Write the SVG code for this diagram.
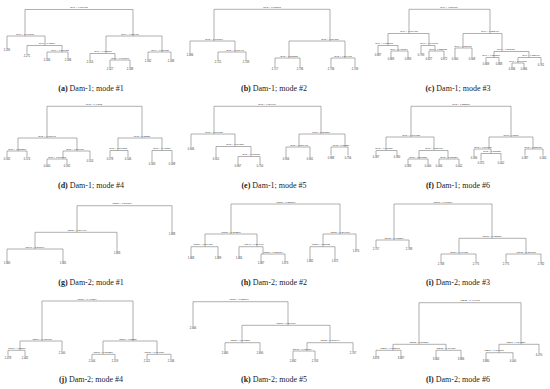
<svg xmlns="http://www.w3.org/2000/svg" width="550" height="389" viewBox="0 0 550 389">
<style>
.e{fill:none;stroke:#7a7a7a;stroke-width:0.6}
.n{font-family:"Liberation Sans",Arial,sans-serif;font-size:2.4px;fill:#333;text-anchor:middle}
.v{font-family:"Liberation Sans",Arial,sans-serif;font-size:2.6px;fill:#333;text-anchor:middle}
.c{font-family:"Liberation Serif","Times New Roman",serif;font-size:8px;fill:#222;text-anchor:middle}
.c tspan.b{font-weight:bold}
</style>
<rect width="550" height="389" fill="#fff"/>

<!-- (a) -->
<g id="panel-a" transform="translate(0,0)">
<g id="a-edges"><path class="e" d="M25 36V9.5H133V36M7 48V36H45V45.5M27 54V45.5H62V52M47 58V52H68V58M106 53.5V36H162V52M90 60V53.5H115V60M110 67V60H130V67M148 59V52H171V59"/></g>
<g id="a-n0"><text class="n" x="79" y="8">Rt46 &lt; 0.167451</text></g>
<g id="a-n1"><text class="n" x="25" y="34.8">Rt46 &lt; 0.147345</text></g>
<g id="a-n2"><text class="n" x="47" y="44.3">Rt46 &lt; 0.12154</text></g>
<g id="a-n3"><text class="n" x="60" y="50.8">Rt46 &lt; 0.168652</text></g>
<g id="a-n4"><text class="n" x="130" y="34.8">Rt46 &lt; 0.158486</text></g>
<g id="a-n5"><text class="n" x="103" y="52.3">Rt46 &lt; 0.173271</text></g>
<g id="a-n6"><text class="n" x="120" y="58.8">Rt46 &lt; 0.161897</text></g>
<g id="a-n7"><text class="n" x="160" y="50.8">Rt46 &lt; 0.186627</text></g>
<g id="a-leaves">
<text class="v" x="7" y="51">2.295</text><text class="v" x="27" y="57">2.271</text><text class="v" x="47" y="61">2.334</text><text class="v" x="68" y="61">2.336</text><text class="v" x="90" y="63">2.314</text><text class="v" x="110" y="70">2.327</text><text class="v" x="130" y="70">2.338</text><text class="v" x="148" y="62">2.332</text><text class="v" x="171" y="62">2.348</text>
</g>
<text class="c" x="91" y="91"><tspan class="b">(a)</tspan> Dam-1; mode #1</text>
</g>

<!-- (b) -->
<g id="panel-b" transform="translate(183,0)">
<g id="b-edges"><path class="e" d="M31 41V9.3H147V41M7 53V41H52V52M35 60V52H63V60M106 58V41H162V58M92 67V58H117V67M148 67V58H172V67"/></g>
<g id="b-n0"><text class="n" x="89" y="7.8">Rt43 &lt; 0.162195</text></g>
<g id="b-n1"><text class="n" x="31" y="39.5">Rt43 &lt; 0.168297</text></g>
<g id="b-n2"><text class="n" x="52" y="50.5">Rt43 &lt; 0.095441</text></g>
<g id="b-n3"><text class="n" x="147" y="39.5">Rt43 &lt; 0.214277</text></g>
<g id="b-n4"><text class="n" x="106" y="56.5">Rt43 &lt; 0.213265</text></g>
<g id="b-n5"><text class="n" x="160" y="56.5">Rt43 &lt; 0.244795</text></g>
<g id="b-leaves">
<text class="v" x="7" y="56">2.686</text><text class="v" x="35" y="63">2.715</text><text class="v" x="63" y="63">2.733</text><text class="v" x="92" y="70">2.717</text><text class="v" x="117" y="70">2.736</text><text class="v" x="148" y="70">2.736</text><text class="v" x="172" y="70">2.749</text>
</g>
<text class="c" x="91" y="91"><tspan class="b">(b)</tspan> Dam-1; mode #2</text>
</g>

<!-- (c) -->
<g id="panel-c" transform="translate(366,0)">
<g id="c-edges"><path class="e" d="M43 33.5V9.3H124V33.5M22 45.5V33.5H63V45.5M12 53V45.5H32V51M25 57V51H42V57M55 53V45.5H69V51M63 57V51H78V57M97 48V33.5H136V51.5M89 57V48H106V57M128 57.5V51.5H163V57.5M120 62V57.5H133V62M152 63V57.5H175V63M146 67V63H158V67"/></g>
<g id="c-n0"><text class="n" x="83" y="7.8">Rt46 &lt; 0.270789</text></g>
<g id="c-n1"><text class="n" x="43" y="32">Rt46 &lt; 0.184451</text></g>
<g id="c-n2"><text class="n" x="18" y="44">Rt46 &lt; 0.128803</text></g>
<g id="c-n3"><text class="n" x="33" y="49.5">Rt46 &lt; 0.488504</text></g>
<g id="c-n4"><text class="n" x="63" y="44">Rt46 &lt; 0.148773</text></g>
<g id="c-n5"><text class="n" x="72" y="49.5">Rt46 &lt; 0.233633</text></g>
<g id="c-n6"><text class="n" x="124" y="32">Rt46 &lt; 0.282466</text></g>
<g id="c-n7"><text class="n" x="97" y="46.5">Rt46 &lt; 0.138716</text></g>
<g id="c-n8"><text class="n" x="140" y="50">Rt46 &lt; 0.293736</text></g>
<g id="c-n9"><text class="n" x="125" y="56">Rt46 &lt; 0.215277</text></g>
<g id="c-n10"><text class="n" x="165" y="56">Rt46 &lt; 0.225900</text></g>
<g id="c-n11"><text class="n" x="152" y="61.5">Rt46 &lt; 0.248188</text></g>
<g id="c-leaves">
<text class="v" x="12" y="56">0.887</text><text class="v" x="25" y="60">0.869</text><text class="v" x="42" y="60">0.893</text><text class="v" x="55" y="56">0.793</text><text class="v" x="63" y="60">0.827</text><text class="v" x="78" y="60">0.872</text><text class="v" x="89" y="60">0.900</text><text class="v" x="106" y="60">0.908</text><text class="v" x="120" y="65">0.869</text><text class="v" x="133" y="65">0.888</text><text class="v" x="146" y="70">0.836</text><text class="v" x="158" y="70">0.866</text><text class="v" x="175" y="66">0.761</text>
</g>
<text class="c" x="92" y="91"><tspan class="b">(c)</tspan> Dam-1; mode #3</text>
</g>

<!-- (d) -->
<g id="panel-d" transform="translate(0,97)">
<g id="d-edges"><path class="e" d="M47 41V9.3H142V41M18 54V41H77V54M7 60V54H27V60M63 62V54H90V62M47 67V62H67V67M118 53.5V41H162V53.5M110 60V53.5H128V60M152 65V53.5H172V65"/></g>
<g id="d-n0"><text class="n" x="94" y="7.8">Rt45 &lt; 0.49562</text></g>
<g id="d-n1"><text class="n" x="47" y="39.5">Rt45 &lt; 0.163471</text></g>
<g id="d-n2"><text class="n" x="17" y="52.5">Rt45 &lt; 0.213356</text></g>
<g id="d-n3"><text class="n" x="75" y="52.5">Rt45 &lt; 0.284087</text></g>
<g id="d-n4"><text class="n" x="57" y="60.5">Rt45 &lt; 0.348843</text></g>
<g id="d-n5"><text class="n" x="142" y="39.5">Rt45 &lt; 0.23331</text></g>
<g id="d-n6"><text class="n" x="118" y="52">Rt45 &lt; 0.246572</text></g>
<g id="d-n7"><text class="n" x="162" y="52">Rt45 &lt; 0.443269</text></g>
<g id="d-leaves">
<text class="v" x="7" y="63">0.592</text><text class="v" x="27" y="63">0.574</text><text class="v" x="47" y="70">0.600</text><text class="v" x="67" y="70">0.592</text><text class="v" x="90" y="65">0.553</text><text class="v" x="110" y="63">0.578</text><text class="v" x="128" y="63">0.546</text><text class="v" x="152" y="68">0.583</text><text class="v" x="172" y="68">0.588</text>
</g>
<text class="c" x="91" y="91"><tspan class="b">(d)</tspan> Dam-1; mode #4</text>
</g>

<!-- (e) -->
<g id="panel-e" transform="translate(183,97)">
<g id="e-edges"><path class="e" d="M31 37V9.3H138V37M8 50V37H52V49.5M33 60V49.5H68V59.5M55 67V59.5H77V67M116 50V37H162V50M103 60V50H127V60M148 58.5V50H165V58.5"/></g>
<g id="e-n0"><text class="n" x="84" y="7.8">Rt43 &lt; 0.154906</text></g>
<g id="e-n1"><text class="n" x="31" y="35.5">Rt43 &lt; 0.177805</text></g>
<g id="e-n2"><text class="n" x="52" y="48">Rt43 &lt; 0.069556</text></g>
<g id="e-n3"><text class="n" x="68" y="58">Rt43 &lt; 0.085865</text></g>
<g id="e-n4"><text class="n" x="138" y="35.5">Rt43 &lt; 0.256211</text></g>
<g id="e-n5"><text class="n" x="116" y="48.5">Rt43 &lt; 0.288445</text></g>
<g id="e-n6"><text class="n" x="158" y="48.5">Rt43 &lt; 0.30228</text></g>
<g id="e-leaves">
<text class="v" x="8" y="53">0.946</text><text class="v" x="33" y="63">0.951</text><text class="v" x="55" y="70">0.967</text><text class="v" x="77" y="70">0.750</text><text class="v" x="103" y="63">0.956</text><text class="v" x="127" y="63">0.961</text><text class="v" x="148" y="61.5">0.988</text><text class="v" x="165" y="61.5">0.756</text>
</g>
<text class="c" x="91" y="91"><tspan class="b">(e)</tspan> Dam-1; mode #5</text>
</g>

<!-- (f) -->
<g id="panel-f" transform="translate(366,97)">
<g id="f-edges"><path class="e" d="M45 40V9.3H145V40M20 53.5V40H68V53.5M10 58V53.5H31V58M53 62V53.5H82V62M42 67V62H62V67M73 67V62H93V67M123 52V40H167V52M108 59V52H125V56.5M115 63.5V56.5H135V63.5M159 58.5V52H177V58.5"/></g>
<g id="f-n0"><text class="n" x="95" y="7.8">Rt43 &lt; 0.223516</text></g>
<g id="f-n1"><text class="n" x="45" y="38.5">Rt43 &lt; 0.179023</text></g>
<g id="f-n2"><text class="n" x="18" y="52">Rt43 &lt; 0.095279</text></g>
<g id="f-n3"><text class="n" x="68" y="52">Rt43 &lt; 0.280001</text></g>
<g id="f-n4"><text class="n" x="52" y="60.5">Rt43 &lt; 0.290326</text></g>
<g id="f-n5"><text class="n" x="83" y="60.5">Rt43 &lt; 0.288254</text></g>
<g id="f-n6"><text class="n" x="145" y="38.5">Rt43 &lt; 0.2581</text></g>
<g id="f-n7"><text class="n" x="117" y="50.5">Rt43 &lt; 0.247721</text></g>
<g id="f-n8"><text class="n" x="126" y="55">Rt43 &lt; 0.265251</text></g>
<g id="f-n9"><text class="n" x="167" y="50.5">Rt43 &lt; 0.236629</text></g>
<g id="f-leaves">
<text class="v" x="10" y="61">0.397</text><text class="v" x="31" y="61">0.390</text><text class="v" x="42" y="70">0.393</text><text class="v" x="62" y="70">0.400</text><text class="v" x="73" y="70">0.406</text><text class="v" x="93" y="70">0.402</text><text class="v" x="108" y="62">0.394</text><text class="v" x="115" y="66.5">0.372</text><text class="v" x="135" y="66.5">0.402</text><text class="v" x="159" y="61.5">0.387</text><text class="v" x="177" y="61.5">0.344</text>
</g>
<text class="c" x="92" y="91"><tspan class="b">(f)</tspan> Dam-1; mode #6</text>
</g>

<!-- (g) -->
<g id="panel-g" transform="translate(0,194)">
<g id="g-edges"><path class="e" d="M77 38.3V11.7H172V38M35 55V38.3H117V57M7 67V55H63V67"/></g>
<g id="g-n0"><text class="n" x="122" y="10.2">Rt150 &lt; 0.276657</text></g>
<g id="g-n1"><text class="n" x="77" y="36.8">Rt150 &lt; 0.274467</text></g>
<g id="g-n2"><text class="n" x="35" y="53.5">Rt146 &lt; 0.268984</text></g>
<g id="g-leaves">
<text class="v" x="7" y="70">1.880</text><text class="v" x="63" y="70">1.885</text><text class="v" x="117" y="60">1.883</text><text class="v" x="172" y="41">1.888</text>
</g>
<text class="c" x="91" y="91"><tspan class="b">(g)</tspan> Dam-2; mode #1</text>
</g>

<!-- (h) -->
<g id="panel-h" transform="translate(183,194)">
<g id="h-edges"><path class="e" d="M48 40V10H157V40M22 52.7V40H74V52.7M8 62V52.7H35V62M56 62V52.7H80V60M78 67V60H102V67M140 52.7V40H173V55M127 65V52.7H152V65"/></g>
<g id="h-n0"><text class="n" x="103" y="8.5">Rt150 &lt; 0.228679</text></g>
<g id="h-n1"><text class="n" x="48" y="38.5">Rt150 &lt; 0.213281</text></g>
<g id="h-n2"><text class="n" x="20" y="51.2">Rt150 &lt; 0.204455</text></g>
<g id="h-n3"><text class="n" x="71" y="51.2">Rt147 &lt; 0.264907</text></g>
<g id="h-n4"><text class="n" x="90" y="58.5">Rt150 &lt; 0.226816</text></g>
<g id="h-n5"><text class="n" x="157" y="38.5">Rt150 &lt; 0.264165</text></g>
<g id="h-n6"><text class="n" x="138" y="51.2">Rt150 &lt; 0.25782</text></g>
<g id="h-leaves">
<text class="v" x="8" y="65">1.868</text><text class="v" x="35" y="65">1.889</text><text class="v" x="56" y="65">1.884</text><text class="v" x="78" y="70">1.887</text><text class="v" x="102" y="70">1.873</text><text class="v" x="127" y="68">1.882</text><text class="v" x="152" y="68">1.872</text><text class="v" x="173" y="58">1.874</text>
</g>
<text class="c" x="91" y="91"><tspan class="b">(h)</tspan> Dam-2; mode #2</text>
</g>

<!-- (i) -->
<g id="panel-i" transform="translate(366,194)">
<g id="i-edges"><path class="e" d="M28 46V10H126V44.3M10 53V46H43V53M93 60V44.3H160V60M75 68V60H110V68M140 68V60H175V68"/></g>
<g id="i-n0"><text class="n" x="77" y="8.5">Rt187 &lt; 0.177504</text></g>
<g id="i-n1"><text class="n" x="28" y="44.5">Rt173 &lt; 0.073201</text></g>
<g id="i-n2"><text class="n" x="126" y="42.8">Rt188 &lt; 0.122636</text></g>
<g id="i-n3"><text class="n" x="93" y="58.5">Rt186 &lt; 0.09725</text></g>
<g id="i-n4"><text class="n" x="160" y="58.5">Rt192 &lt; 0.289882</text></g>
<g id="i-leaves">
<text class="v" x="10" y="56">2.757</text><text class="v" x="43" y="56">2.768</text><text class="v" x="75" y="71">2.768</text><text class="v" x="110" y="71">2.775</text><text class="v" x="140" y="71">2.775</text><text class="v" x="175" y="71">2.782</text>
</g>
<text class="c" x="92" y="91"><tspan class="b">(i)</tspan> Dam-2; mode #3</text>
</g>

<!-- (j) -->
<g id="panel-j" transform="translate(0,291)">
<g id="j-edges"><path class="e" d="M42 50V10H133V50M20 59.3V50H62V60M8 65V59.3H25V65M103 63.3V50H157V63.3M92 68V63.3H115V68M147 68V63.3H171V68"/></g>
<g id="j-n0"><text class="n" x="87" y="8.5">Rt187 &lt; 0.497534</text></g>
<g id="j-n1"><text class="n" x="42" y="48.5">Rt277 &lt; 0.139013</text></g>
<g id="j-n2"><text class="n" x="17" y="57.8">Rt187 &lt; 0.33599</text></g>
<g id="j-n3"><text class="n" x="128" y="48.5">Rt277 &lt; 0.33239</text></g>
<g id="j-n4"><text class="n" x="103" y="61.8">Rt187 &lt; 0.387255</text></g>
<g id="j-n5"><text class="n" x="154" y="61.8">Rt187 &lt; 0.714953</text></g>
<g id="j-leaves">
<text class="v" x="8" y="68">2.478</text><text class="v" x="25" y="68">2.482</text><text class="v" x="62" y="63">2.500</text><text class="v" x="92" y="71">2.504</text><text class="v" x="115" y="71">2.519</text><text class="v" x="147" y="71">2.521</text><text class="v" x="171" y="71">2.536</text>
</g>
<text class="c" x="91" y="91"><tspan class="b">(j)</tspan> Dam-2; mode #4</text>
</g>

<!-- (k) -->
<g id="panel-k" transform="translate(183,291)">
<g id="k-edges"><path class="e" d="M10 35V10.7H105V34.3M59 51.7V34.3H147V51.7M42 60V51.7H77V60M124 60V51.7H170V60M110 68V60H132V68"/></g>
<g id="k-n0"><text class="n" x="56" y="9.2">Rt151 &lt; 0.223607</text></g>
<g id="k-n1"><text class="n" x="103" y="32.8">Rt151 &lt; 0.269957</text></g>
<g id="k-n2"><text class="n" x="57" y="50.2">Rt138 &lt; 0.241232</text></g>
<g id="k-n3"><text class="n" x="147" y="50.2">Rt152 &lt; 0.290046</text></g>
<g id="k-n4"><text class="n" x="119" y="58.5">Rt163 &lt; 0.039839</text></g>
<g id="k-leaves">
<text class="v" x="10" y="38">2.666</text><text class="v" x="42" y="63">2.680</text><text class="v" x="77" y="63">2.690</text><text class="v" x="110" y="71">2.692</text><text class="v" x="132" y="71">2.703</text><text class="v" x="170" y="63">2.707</text>
</g>
<text class="c" x="91" y="91"><tspan class="b">(k)</tspan> Dam-2; mode #5</text>
</g>

<!-- (l) -->
<g id="panel-l" transform="translate(366,291)">
<g id="l-edges"><path class="e" d="M53 53.3V11.7H155V53.3M27 59.3V53.3H80V59.3M10 65V59.3H35V65M70 66V59.3H95V66M133 61.7V53.3H173V62M120 68V61.7H147V68"/></g>
<g id="l-n0"><text class="n" x="104" y="10.2">Rt282 &lt; 0.449973</text></g>
<g id="l-n1"><text class="n" x="53" y="51.8">Rt282 &lt; 0.277537</text></g>
<g id="l-n2"><text class="n" x="24" y="57.8">Rt287 &lt; 0.183972</text></g>
<g id="l-n3"><text class="n" x="80" y="57.8">Rt282 &lt; 0.199626</text></g>
<g id="l-n4"><text class="n" x="150" y="51.8">Rt277 &lt; 0.247239</text></g>
<g id="l-n5"><text class="n" x="128" y="60.2">Rt287 &lt; 0.391083</text></g>
<g id="l-leaves">
<text class="v" x="10" y="68">3.878</text><text class="v" x="35" y="68">3.887</text><text class="v" x="70" y="69">3.884</text><text class="v" x="95" y="69">3.886</text><text class="v" x="120" y="71">3.880</text><text class="v" x="147" y="71">4.000</text><text class="v" x="173" y="65">4.070</text>
</g>
<text class="c" x="92" y="91"><tspan class="b">(l)</tspan> Dam-2; mode #6</text>
</g>
</svg>
